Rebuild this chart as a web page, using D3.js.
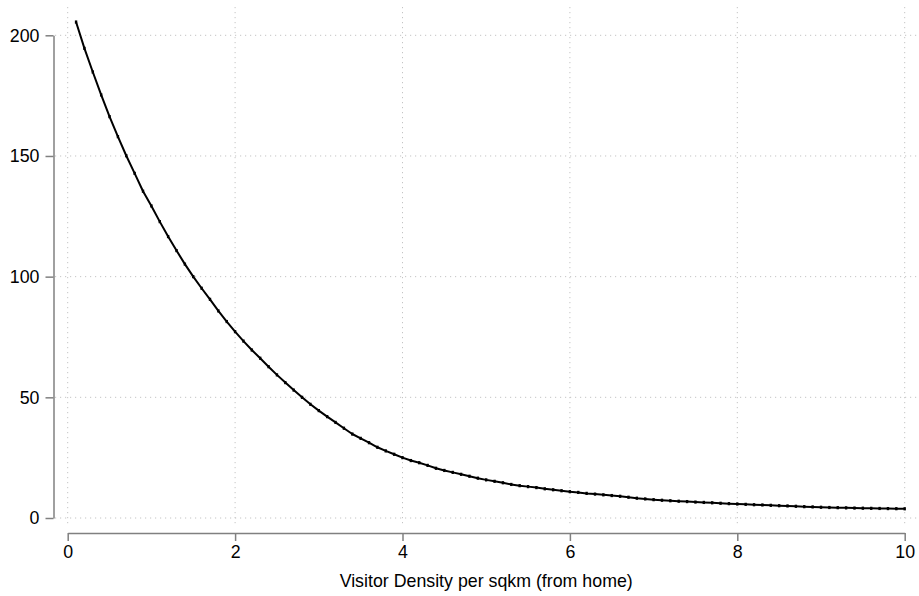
<!DOCTYPE html>
<html>
<head>
<meta charset="utf-8">
<script src="https://cdn.jsdelivr.net/npm/d3@7/dist/d3.min.js"></script>
<style>
  html, body { margin: 0; padding: 0; background: #fff; }
  svg { display: block; font-family: "Liberation Sans", Arial, Helvetica, sans-serif; }
</style>
</head>
<body>
<svg id="chart" width="919" height="596"></svg>
<script>
// Visitor density per sqkm (from home), evaluated every 0.1
const density = [
  0.1, 0.2, 0.3, 0.4, 0.5, 0.6, 0.7, 0.8, 0.9, 1.0,
  1.1, 1.2, 1.3, 1.4, 1.5, 1.6, 1.7, 1.8, 1.9, 2.0,
  2.1, 2.2, 2.3, 2.4, 2.5, 2.6, 2.7, 2.8, 2.9, 3.0,
  3.1, 3.2, 3.3, 3.4, 3.5, 3.6, 3.7, 3.8, 3.9, 4.0,
  4.1, 4.2, 4.3, 4.4, 4.5, 4.6, 4.7, 4.8, 4.9, 5.0,
  5.1, 5.2, 5.3, 5.4, 5.5, 5.6, 5.7, 5.8, 5.9, 6.0,
  6.1, 6.2, 6.3, 6.4, 6.5, 6.6, 6.7, 6.8, 6.9, 7.0,
  7.1, 7.2, 7.3, 7.4, 7.5, 7.6, 7.7, 7.8, 7.9, 8.0,
  8.1, 8.2, 8.3, 8.4, 8.5, 8.6, 8.7, 8.8, 8.9, 9.0,
  9.1, 9.2, 9.3, 9.4, 9.5, 9.6, 9.7, 9.8, 9.9, 10.0
];

// Fitted value at each density
const fitted = [
  205.5, 194.6, 184.8, 175.3, 166.3, 158.0, 150.1, 142.8, 135.4, 129.3,
  122.8, 116.6, 110.8, 105.2, 100.0, 95.2, 90.6, 85.8, 81.4, 77.2,
  73.3, 69.6, 66.2, 62.7, 59.3, 56.1, 53.0, 50.0, 47.1, 44.5,
  42.0, 39.6, 37.2, 34.8, 33.0, 31.2, 29.3, 27.8, 26.4, 25.0,
  23.8, 22.9, 21.8, 20.6, 19.7, 18.9, 18.1, 17.3, 16.5, 15.8,
  15.2, 14.6, 13.9, 13.4, 13.0, 12.6, 12.1, 11.7, 11.3, 10.9,
  10.6, 10.2, 9.9, 9.6, 9.3, 9.0, 8.6, 8.2, 7.9, 7.6,
  7.35, 7.15, 6.95, 6.8, 6.6, 6.45, 6.3, 6.1, 5.95, 5.8,
  5.65, 5.5, 5.4, 5.25, 5.1, 5.0, 4.85, 4.7, 4.6, 4.45,
  4.35, 4.28, 4.2, 4.12, 4.06, 4.0, 3.95, 3.9, 3.86, 3.82
];

const xTicks = [0, 2, 4, 6, 8, 10];
const yTicks = [0, 50, 100, 150, 200];
const xTitle = "Visitor Density per sqkm (from home)";

const svg = d3.select("#chart");

const x = d3.scaleLinear().domain([0, 10]).range([67.7, 904.7]);
const y = d3.scaleLinear().domain([0, 200]).range([518, 35.3]);

const plotLeft = 55, plotRight = 919, plotTop = 7, plotBottom = 527;
const gridColor = "#c4c4c4";
const axisColor = "#808080";
const fontSize = "17.8px";

// Dotted grid
svg.append("g")
  .selectAll("line.gx")
  .data(xTicks)
  .join("line")
  .attr("x1", d => x(d)).attr("x2", d => x(d))
  .attr("y1", plotTop).attr("y2", plotBottom)
  .attr("stroke", gridColor)
  .attr("stroke-width", 1)
  .attr("stroke-dasharray", "1.2,3.8");

svg.append("g")
  .selectAll("line.gy")
  .data(yTicks)
  .join("line")
  .attr("x1", plotLeft).attr("x2", plotRight)
  .attr("y1", d => y(d)).attr("y2", d => y(d))
  .attr("stroke", gridColor)
  .attr("stroke-width", 1)
  .attr("stroke-dasharray", "1.2,3.8");

// Axes
const yAxis = d3.axisLeft(y).tickValues(yTicks).tickSize(8).tickPadding(6).tickSizeOuter(0);
const xAxis = d3.axisBottom(x).tickValues(xTicks).tickSize(8).tickPadding(4.5).tickSizeOuter(0);

const gy = svg.append("g").attr("transform", "translate(53.5,0)").call(yAxis);
const gx = svg.append("g").attr("transform", "translate(0,533)").call(xAxis);

[gx, gy].forEach(g => {
  g.select(".domain").attr("stroke", axisColor).attr("stroke-width", 1.5);
  g.selectAll(".tick line").attr("stroke", axisColor).attr("stroke-width", 1.5);
  g.selectAll(".tick text")
    .attr("fill", "#000")
    .style("font-size", fontSize)
    .style("font-family", "'Liberation Sans', Arial, Helvetica, sans-serif");
});

// Axis title
svg.append("text")
  .attr("x", (x(0) + x(10)) / 2)
  .attr("y", 586.5)
  .attr("text-anchor", "middle")
  .style("font-size", fontSize)
  .attr("fill", "#000")
  .text(xTitle);

// Fitted curve
const pts = density.map((d, i) => [d, fitted[i]]);
const line = d3.line().x(d => x(d[0])).y(d => y(d[1]));

svg.append("path")
  .datum(pts)
  .attr("d", line)
  .attr("fill", "none")
  .attr("stroke", "#000")
  .attr("stroke-width", 2)
  .attr("stroke-linejoin", "round");

svg.append("g")
  .selectAll("rect")
  .data(pts)
  .join("rect")
  .attr("x", d => x(d[0]) - 1.2)
  .attr("y", d => y(d[1]) - 1.6)
  .attr("width", 2.4)
  .attr("height", 3.2)
  .attr("fill", "#000");
</script>
</body>
</html>
